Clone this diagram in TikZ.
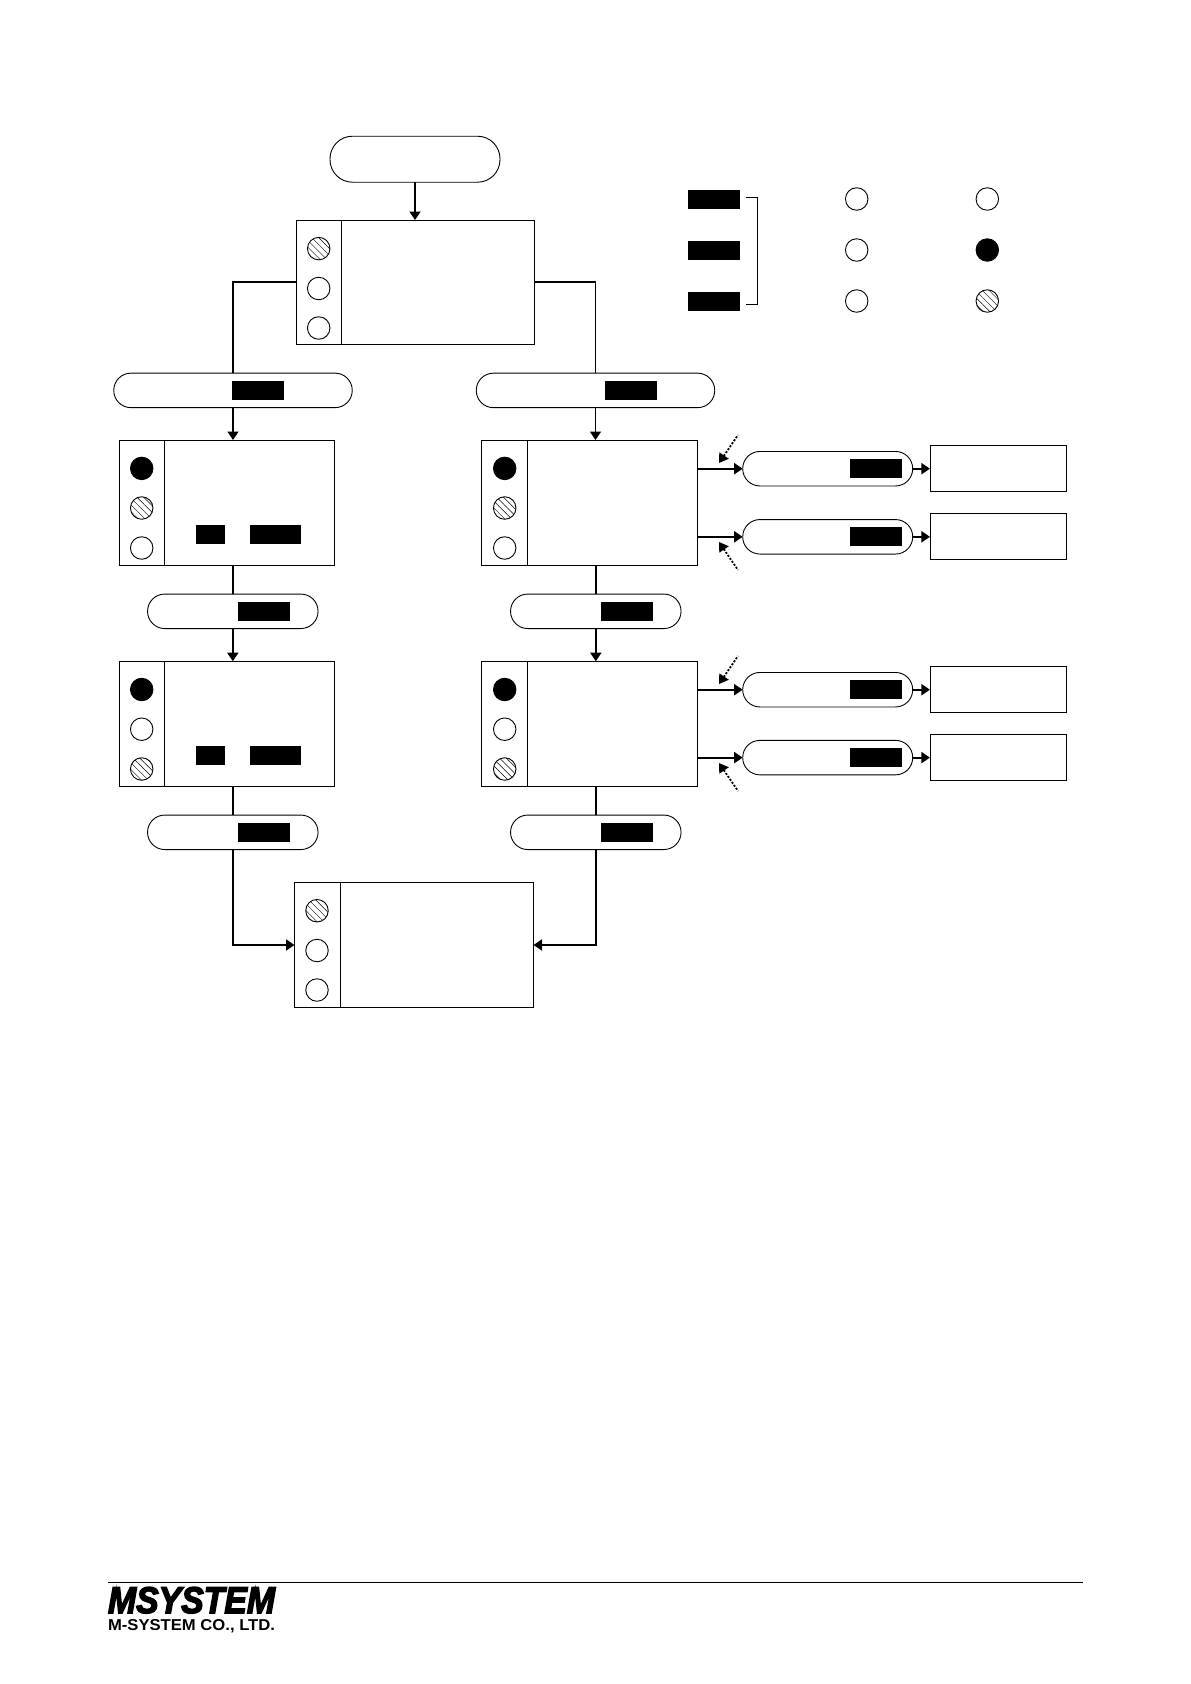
\documentclass[tikz,border=0pt]{standalone}
\usepackage{fontspec}
\usepackage{graphicx}
\usetikzlibrary{arrows.meta,patterns.meta,positioning}
\setmainfont{Liberation Sans}
\newfontfamily\logofont[BoldItalicFeatures={FakeBold=4}]{Liberation Sans}

\begin{document}
\begin{tikzpicture}[x=1pt, y=-1pt, >={Triangle[length=8.5pt,width=11pt]},
  every node/.style={line width=0.9pt, outer sep=0pt, inner sep=0pt},
  pill/.style={draw, rounded corners=17.2pt, minimum height=34.5pt},
  panel/.style={draw, minimum width=45pt, minimum height=125pt},
  body/.style={draw, minimum height=125pt},
  keycap/.style={fill=black, minimum width=52pt, minimum height=19pt},
  lampoff/.style={draw, circle, minimum size=22.5pt},
  lampon/.style={lampoff, fill=black},
  lampblink/.style={lampoff, pattern={Lines[angle=-45,distance=4.8pt,line width=0.45pt]}},
  flow/.style={line width=1.8pt},
  hint/.style={line width=1.8pt, dash pattern=on 2pt off 1.6pt}]

\useasboundingbox (0,0) rectangle (1191,1684);

% start of the flow and the first box
\node[pill, rounded corners=22.5pt, minimum width=170pt, minimum height=46pt] (start) at (415,159.2) {};
\node[panel, minimum width=44.5pt, minimum height=124pt] (panelA) at (319,282) {};
\node[body, minimum width=193pt, minimum height=124pt, right=0pt of panelA] (bodyA) {};
\foreach \n/\y/\s in {1/248.6/lampblink, 2/288.5/lampoff, 3/328/lampoff}
  \node[\s] (lampA\n) at (318.7,\y) {};
\draw[flow, ->] (start.south) -- (start.south |- bodyA.north);

% legend, upper right
\node[keycap] (legendA) at (714,199.5) {};
\node[keycap] (legendB) at (714,250.5) {};
\node[keycap] (legendC) at (714,301.5) {};
\foreach \n/\y/\s in {A/199/lampoff, B/250/lampoff, C/301/lampoff}
  \node[\s] (legendoff\n) at (856.7,\y) {};
\foreach \n/\y/\s in {A/199/lampoff, B/250/lampon, C/301/lampblink}
  \node[\s] (legendon\n) at (987.3,\y) {};
\coordinate (braceA) at (746,197.3);
\coordinate (braceB) at (746,304.3);
\draw[line width=0.9pt] (braceA) -- ++(11.7,0) -- ++(0,107) -- (braceB);

% left branch
\node[pill, minimum width=238.5pt] (pillL) at (233,390.4) {};
\node[keycap] (keyL) at (258,390) {};
\node[panel] (panelL) at (142,502.5) {};
\node[body, minimum width=170pt, right=0pt of panelL] (bodyL) {};
\foreach \n/\y/\s in {1/468.4/lampon, 2/508/lampblink, 3/548/lampoff}
  \node[\s] (lampL\n) at (141.7,\y) {};
\node[fill=black, minimum width=29pt, minimum height=19pt] (keyLa) at (210.5,534.5) {};
\node[keycap, minimum width=51pt] (keyLb) at (275.5,534.5) {};
\node[pill, minimum width=170.5pt] (pillM) at (232.8,611.3) {};
\node[keycap] (keyM) at (264,611) {};
\node[panel] (panelN) at (142,723.7) {};
\node[body, minimum width=170pt, right=0pt of panelN] (bodyN) {};
\foreach \n/\y/\s in {1/689.5/lampon, 2/729.2/lampoff, 3/769/lampblink}
  \node[\s] (lampN\n) at (141.7,\y) {};
\node[fill=black, minimum width=29pt, minimum height=19pt] (keyNa) at (210.5,755.7) {};
\node[keycap, minimum width=51pt] (keyNb) at (275.5,755.7) {};
\node[pill, minimum width=170.5pt] (pillO) at (232.8,832.3) {};
\node[keycap] (keyO) at (264,832) {};

% right branch
\node[pill, minimum width=238.5pt] (pillR) at (595.5,390.4) {};
\node[keycap] (keyR) at (631,390) {};
\node[panel, minimum width=46pt] (panelR) at (504,502.5) {};
\node[body, minimum width=170pt, right=0pt of panelR] (bodyR) {};
\foreach \n/\y/\s in {1/468.4/lampon, 2/508/lampblink, 3/548/lampoff}
  \node[\s] (lampR\n) at (504.7,\y) {};
\node[pill, minimum width=170.5pt] (pillS) at (595.8,611.3) {};
\node[keycap] (keyS) at (627,611) {};
\node[panel, minimum width=46pt] (panelT) at (504,723.7) {};
\node[body, minimum width=170pt, right=0pt of panelT] (bodyT) {};
\foreach \n/\y/\s in {1/689.5/lampon, 2/729.2/lampoff, 3/769/lampblink}
  \node[\s] (lampT\n) at (504.7,\y) {};
\node[pill, minimum width=170.5pt] (pillU) at (595.8,832.3) {};
\node[keycap] (keyU) at (627,832) {};

% closing box
\node[panel, minimum width=45.5pt, minimum height=125pt] (panelZ) at (317.25,945) {};
\node[body, minimum width=193.5pt, minimum height=125pt, right=0pt of panelZ] (bodyZ) {};
\foreach \n/\y/\s in {1/910.7/lampblink, 2/950.5/lampoff, 3/990/lampoff}
  \node[\s] (lampZ\n) at (317,\y) {};

% side exits of the right branch
\foreach \n/\y in {a/468.7, b/536.8, c/689.7, d/757.6} {
  \node[pill, minimum width=170pt] (pill\n) at (827.7,\y) {};
  \node[keycap] (key\n) at (876,\y) {};
  \node[draw, minimum width=136.7pt, minimum height=46pt] (exit\n) at (998.3,\y) {};
}
\draw[flow, ->] (pilla.west -| bodyR.east) -- (pilla.west);
\draw[flow, ->] (pillb.west -| bodyR.east) -- (pillb.west);
\draw[flow, ->] (pillc.west -| bodyT.east) -- (pillc.west);
\draw[flow, ->] (pilld.west -| bodyT.east) -- (pilld.west);
\foreach \n in {a,b,c,d}
  \draw[flow, ->] (pill\n.east) -- (exit\n.west);

% dotted hints next to the exits
\coordinate (hintaS) at (738,435);   \coordinate (hintaE) at (719,463);
\coordinate (hintbS) at (738,570);   \coordinate (hintbE) at (719,542);
\coordinate (hintcS) at (738,656);   \coordinate (hintcE) at (719,684);
\coordinate (hintdS) at (738,791);   \coordinate (hintdE) at (719,763);
\foreach \n in {a,b,c,d}
  \draw[hint, {Triangle[length=9pt,width=11pt]}-{}] (hint\n E) -- (hint\n S);

% connectors of the two branches
\draw[flow] (panelA.west) -| (pillL.north);
\draw[flow] (bodyA.east) -| (pillR.north);
\draw[flow, ->] (pillL.south) -- (pillL.south |- panelL.north);
\draw[flow, ->] (pillR.south) -- (pillR.south |- panelR.north);
\draw[flow] (pillM.north |- panelL.south) -- (pillM.north);
\draw[flow] (pillS.north |- panelR.south) -- (pillS.north);
\draw[flow, ->] (pillM.south) -- (pillM.south |- panelN.north);
\draw[flow, ->] (pillS.south) -- (pillS.south |- panelT.north);
\draw[flow] (pillO.north |- panelN.south) -- (pillO.north);
\draw[flow] (pillU.north |- panelT.south) -- (pillU.north);
\draw[flow, ->] (pillO.south) |- (panelZ.west);
\draw[flow, ->] (pillU.south) |- (bodyZ.east);

% footer
\coordinate (ruleA) at (108,1582.3);
\coordinate (ruleB) at (1083,1582.3);
\draw[line width=0.9pt] (ruleA) -- (ruleB);
\node[anchor=north west] (logo) at (108,1587) {\resizebox{167pt}{26pt}{\logofont\bfseries\itshape MSYSTEM}};
\node[anchor=north west] (company) at (108,1619) {\resizebox{167pt}{11pt}{\bfseries M-SYSTEM CO., LTD.}};

\end{tikzpicture}
\end{document}
